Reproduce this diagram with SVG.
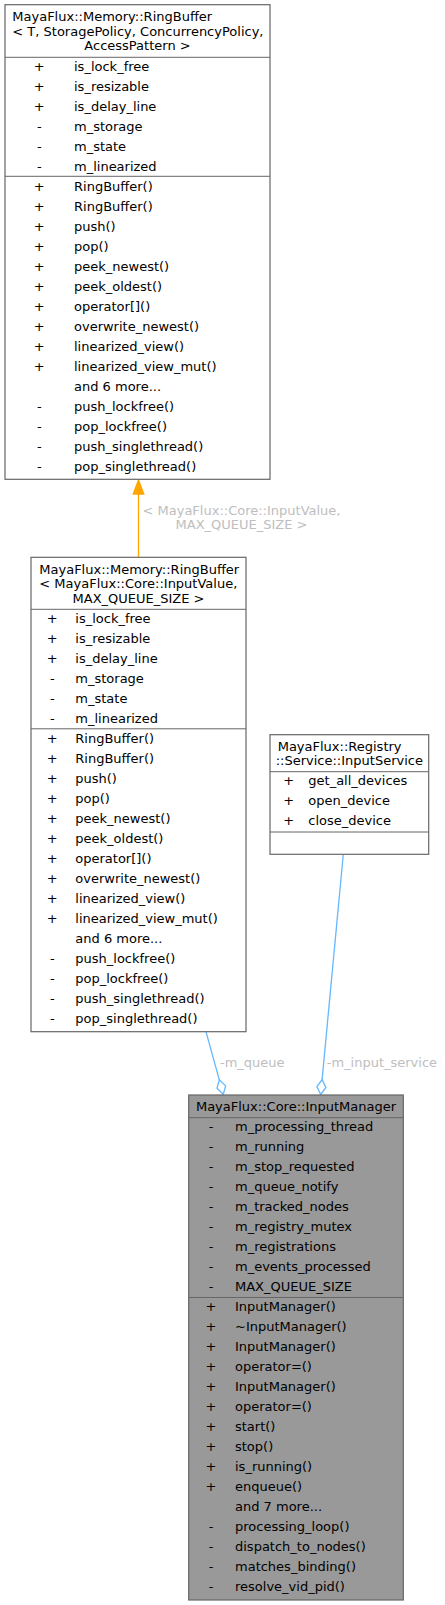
<svg xmlns="http://www.w3.org/2000/svg" width="445" height="1605" viewBox="0 0 445 1605">
<style>
text{font-family:"DejaVu Sans","Liberation Sans",sans-serif;font-size:13px;fill:#000}
.box{fill:#fff;stroke:#666;stroke-width:1.2}
.focus{fill:#999;stroke:#666;stroke-width:1.2}
.sep{stroke:#666;stroke-width:1;fill:none}
.c{text-anchor:middle}
.lbl{fill:#bebebe}
.inh{stroke:#ffa500;stroke-width:1.3;fill:none}
.agg{stroke:#63b8ff;stroke-width:1.3;fill:none}
.dia{stroke:#63b8ff;stroke-width:1.3;fill:#fff}
</style>
<rect width="445" height="1605" fill="#fff"/>
<g id="edges">
<line class="inh" x1="138.5" y1="557" x2="138.5" y2="492"/>
<polygon points="138.5,480 133.2,494 143.8,494" fill="#ffa500" stroke="#ffa500" stroke-width="1.3"/>
<text class="lbl c" x="241.5" y="515.2">&lt; MayaFlux::Core::InputValue,</text>
<text class="lbl c" x="241.5" y="529">MAX_QUEUE_SIZE &gt;</text>
<line class="agg" x1="206" y1="1031.7" x2="219.3" y2="1079.8"/>
<polygon class="dia" points="223.3,1094.3 225.6,1085.9 219.3,1079.8 217,1088.3"/>
<text class="lbl" x="220" y="1067.2">-m_queue</text>
<line class="agg" x1="343.3" y1="854.3" x2="322.1" y2="1079.6"/>
<polygon class="dia" points="320.7,1094.5 325.9,1087.5 322.1,1079.6 316.9,1086.6"/>
<text class="lbl" x="326.7" y="1067.2">-m_input_service</text>
</g>
<g id="node_ringbuffer_template">
<rect class="box" x="5" y="4.7" width="265" height="474.6"/>
<line class="sep" x1="5" y1="57.3" x2="270" y2="57.3"/>
<line class="sep" x1="5" y1="176.3" x2="270" y2="176.3"/>
<text x="12.3" y="20.9">MayaFlux::Memory::RingBuffer</text>
<text x="12.3" y="35.6">&lt; T, StoragePolicy, ConcurrencyPolicy,</text>
<text class="c" x="137.5" y="50.2">AccessPattern &gt;</text>
<g class="c">
<text x="39.3" y="71.2">+</text><text x="39.3" y="91.2">+</text><text x="39.3" y="111.2">+</text>
<text x="39.3" y="131.2">-</text><text x="39.3" y="151.2">-</text><text x="39.3" y="171.2">-</text>
<text x="39.3" y="190.8">+</text><text x="39.3" y="210.8">+</text><text x="39.3" y="230.8">+</text>
<text x="39.3" y="250.8">+</text><text x="39.3" y="270.8">+</text><text x="39.3" y="290.8">+</text>
<text x="39.3" y="310.8">+</text><text x="39.3" y="330.8">+</text><text x="39.3" y="350.8">+</text>
<text x="39.3" y="370.8">+</text>
<text x="39.3" y="410.8">-</text><text x="39.3" y="430.8">-</text><text x="39.3" y="450.8">-</text><text x="39.3" y="470.8">-</text>
</g>
<text x="74" y="71.2">is_lock_free</text>
<text x="74" y="91.2">is_resizable</text>
<text x="74" y="111.2">is_delay_line</text>
<text x="74" y="131.2">m_storage</text>
<text x="74" y="151.2">m_state</text>
<text x="74" y="171.2">m_linearized</text>
<text x="74" y="190.8">RingBuffer()</text>
<text x="74" y="210.8">RingBuffer()</text>
<text x="74" y="230.8">push()</text>
<text x="74" y="250.8">pop()</text>
<text x="74" y="270.8">peek_newest()</text>
<text x="74" y="290.8">peek_oldest()</text>
<text x="74" y="310.8">operator[]()</text>
<text x="74" y="330.8">overwrite_newest()</text>
<text x="74" y="350.8">linearized_view()</text>
<text x="74" y="370.8">linearized_view_mut()</text>
<text x="74" y="390.8">and 6 more...</text>
<text x="74" y="410.8">push_lockfree()</text>
<text x="74" y="430.8">pop_lockfree()</text>
<text x="74" y="450.8">push_singlethread()</text>
<text x="74" y="470.8">pop_singlethread()</text>
</g>
<g id="node_ringbuffer_inputvalue">
<rect class="box" x="31" y="557.3" width="215" height="474.4"/>
<line class="sep" x1="31" y1="609.3" x2="246" y2="609.3"/>
<line class="sep" x1="31" y1="728.8" x2="246" y2="728.8"/>
<text x="39.3" y="573.5">MayaFlux::Memory::RingBuffer</text>
<text x="39.3" y="588.2">&lt; MayaFlux::Core::InputValue,</text>
<text class="c" x="138.5" y="602.8">MAX_QUEUE_SIZE &gt;</text>
<g class="c">
<text x="52.3" y="622.8">+</text><text x="52.3" y="642.8">+</text><text x="52.3" y="662.8">+</text>
<text x="52.3" y="682.8">-</text><text x="52.3" y="702.8">-</text><text x="52.3" y="722.8">-</text>
<text x="52.3" y="742.5">+</text><text x="52.3" y="762.5">+</text><text x="52.3" y="782.5">+</text>
<text x="52.3" y="802.5">+</text><text x="52.3" y="822.5">+</text><text x="52.3" y="842.5">+</text>
<text x="52.3" y="862.5">+</text><text x="52.3" y="882.5">+</text><text x="52.3" y="902.5">+</text>
<text x="52.3" y="922.5">+</text>
<text x="52.3" y="962.5">-</text><text x="52.3" y="982.5">-</text><text x="52.3" y="1002.5">-</text><text x="52.3" y="1022.5">-</text>
</g>
<text x="75.3" y="622.8">is_lock_free</text>
<text x="75.3" y="642.8">is_resizable</text>
<text x="75.3" y="662.8">is_delay_line</text>
<text x="75.3" y="682.8">m_storage</text>
<text x="75.3" y="702.8">m_state</text>
<text x="75.3" y="722.8">m_linearized</text>
<text x="75.3" y="742.5">RingBuffer()</text>
<text x="75.3" y="762.5">RingBuffer()</text>
<text x="75.3" y="782.5">push()</text>
<text x="75.3" y="802.5">pop()</text>
<text x="75.3" y="822.5">peek_newest()</text>
<text x="75.3" y="842.5">peek_oldest()</text>
<text x="75.3" y="862.5">operator[]()</text>
<text x="75.3" y="882.5">overwrite_newest()</text>
<text x="75.3" y="902.5">linearized_view()</text>
<text x="75.3" y="922.5">linearized_view_mut()</text>
<text x="75.3" y="942.5">and 6 more...</text>
<text x="75.3" y="962.5">push_lockfree()</text>
<text x="75.3" y="982.5">pop_lockfree()</text>
<text x="75.3" y="1002.5">push_singlethread()</text>
<text x="75.3" y="1022.5">pop_singlethread()</text>
</g>
<g id="node_inputservice">
<rect class="box" x="270" y="734.7" width="158.7" height="119.6"/>
<line class="sep" x1="270" y1="771.7" x2="428.7" y2="771.7"/>
<line class="sep" x1="270" y1="832" x2="428.7" y2="832"/>
<text x="277.7" y="751.2">MayaFlux::Registry</text>
<text class="c" x="349.3" y="765.2">::Service::InputService</text>
<g class="c">
<text x="288.7" y="785.2">+</text><text x="288.7" y="805.2">+</text><text x="288.7" y="825.2">+</text>
</g>
<text x="308.3" y="785.2">get_all_devices</text>
<text x="308.3" y="805.2">open_device</text>
<text x="308.3" y="825.2">close_device</text>
</g>
<g id="node_inputmanager">
<rect class="focus" x="188.7" y="1095" width="214.6" height="505"/>
<line class="sep" x1="188.7" y1="1117.7" x2="403.3" y2="1117.7"/>
<line class="sep" x1="188.7" y1="1297.5" x2="403.3" y2="1297.5"/>
<text class="c" x="296" y="1111.2">MayaFlux::Core::InputManager</text>
<g class="c">
<text x="211" y="1131.2">-</text><text x="211" y="1151.2">-</text><text x="211" y="1171.2">-</text>
<text x="211" y="1191.2">-</text><text x="211" y="1211.2">-</text><text x="211" y="1231.2">-</text>
<text x="211" y="1251.2">-</text><text x="211" y="1271.2">-</text><text x="211" y="1291.2">-</text>
<text x="211" y="1311.2">+</text><text x="211" y="1331.2">+</text><text x="211" y="1351.2">+</text>
<text x="211" y="1371.2">+</text><text x="211" y="1391.2">+</text><text x="211" y="1411.2">+</text>
<text x="211" y="1431.2">+</text><text x="211" y="1451.2">+</text><text x="211" y="1471.2">+</text>
<text x="211" y="1491.2">+</text>
<text x="211" y="1531.2">-</text><text x="211" y="1551.2">-</text><text x="211" y="1571.2">-</text><text x="211" y="1591.2">-</text>
</g>
<text x="235" y="1131.2">m_processing_thread</text>
<text x="235" y="1151.2">m_running</text>
<text x="235" y="1171.2">m_stop_requested</text>
<text x="235" y="1191.2">m_queue_notify</text>
<text x="235" y="1211.2">m_tracked_nodes</text>
<text x="235" y="1231.2">m_registry_mutex</text>
<text x="235" y="1251.2">m_registrations</text>
<text x="235" y="1271.2">m_events_processed</text>
<text x="235" y="1291.2">MAX_QUEUE_SIZE</text>
<text x="235" y="1311.2">InputManager()</text>
<text x="235" y="1331.2">~InputManager()</text>
<text x="235" y="1351.2">InputManager()</text>
<text x="235" y="1371.2">operator=()</text>
<text x="235" y="1391.2">InputManager()</text>
<text x="235" y="1411.2">operator=()</text>
<text x="235" y="1431.2">start()</text>
<text x="235" y="1451.2">stop()</text>
<text x="235" y="1471.2">is_running()</text>
<text x="235" y="1491.2">enqueue()</text>
<text x="235" y="1511.2">and 7 more...</text>
<text x="235" y="1531.2">processing_loop()</text>
<text x="235" y="1551.2">dispatch_to_nodes()</text>
<text x="235" y="1571.2">matches_binding()</text>
<text x="235" y="1591.2">resolve_vid_pid()</text>
</g>
</svg>
